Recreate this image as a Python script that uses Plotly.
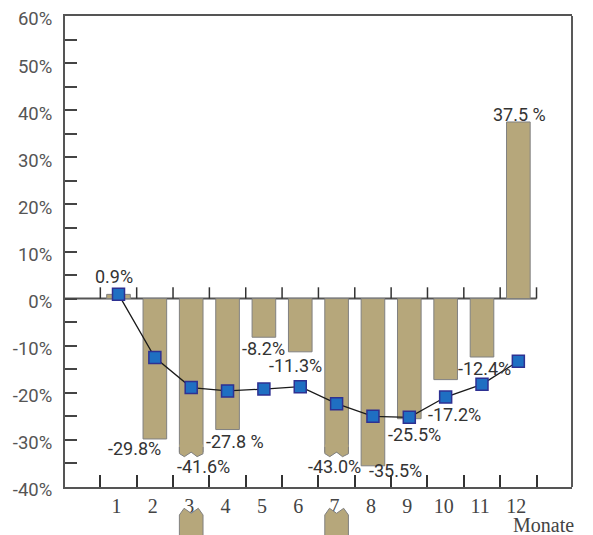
import plotly.graph_objects as go

# ---------------- data ----------------
months = [1, 2, 3, 4, 5, 6, 7, 8, 9, 10, 11, 12]
month_labels = ["1", "2", "3", "4", "5", "6", "7", "8", "9", "10", "11", "12"]
bar_values = [0.9, -29.8, -41.6, -27.8, -8.2, -11.3, -43.0, -35.5, -25.5, -17.2, -12.4, 37.5]
line_values = [0.9, -12.5, -18.9, -19.6, -19.2, -18.7, -22.3, -25.0, -25.2, -20.9, -18.2, -13.3]
spaced_pct = [False, False, False, True, False, False, False, False, False, False, False, True]
y_ticks = [-40, -30, -20, -10, 0, 10, 20, 30, 40, 50, 60]
y_tick_labels = ["-40%", "-30%", "-20%", "-10%", "0%", "10%", "20%", "30%", "40%", "50%", "60%"]
x_axis_title = "Monate"

# ---------------- styles / positions ----------------
BAR_COLOR = "#b6a77b"
BAR_LINE = "#808080"
AXIS_COLOR = "#555555"
TEXT_COLOR = "#333333"
BAR_W = 0.65
CUT = -32.6          # level where over-long bars are broken off
X_RANGE = [-0.472, 13.476]
Y_RANGE = [-40, 60]
label_dx = [-0.12, -0.56, 0.34, 0.2, 0.0, -0.14, -0.07, 0.61, 0.14, 0.23, 0.07, 0.03]
label_dy = [3.8, -2.0, -3.1, -2.45, -2.4, -3.0, -3.0, -0.9, -3.3, -7.5, -2.44, 1.5]

broken = [v < Y_RANGE[0] + 3 for v in bar_values]
shown = [max(v, CUT) if b else v for v, b in zip(bar_values, broken)]

fig = go.Figure()
fig.add_trace(go.Bar(
    x=months, y=shown, width=BAR_W,
    marker=dict(color=BAR_COLOR, line=dict(color=BAR_LINE, width=1)),
    hoverinfo="skip",
))
fig.add_trace(go.Scatter(
    x=months, y=line_values, mode="lines+markers",
    line=dict(color="#1a1a1a", width=1.3),
    marker=dict(symbol="square", size=12, color="#1f6fc2",
                line=dict(color="#2e3192", width=1.5)),
    hoverinfo="skip",
))

shapes = []
# zero line with upward ticks at category boundaries
shapes.append(dict(type="line", xref="x", yref="y", x0=X_RANGE[0], x1=months[-1] + 0.5,
                   y0=0, y1=0, line=dict(color=AXIS_COLOR, width=2), layer="below"))
for k in range(len(months) + 1):
    xb = months[0] - 0.5 + k
    shapes.append(dict(type="line", xref="x", yref="y", x0=xb, x1=xb, y0=0, y1=2.4,
                       line=dict(color="#333333", width=1.5), layer="below"))

# broken bars: zigzag end inside plot and a stub below the axis
zz_top = [(0.0, -32.9), (0.21, -33.56), (0.5, -32.6), (0.75, -33.56), (1.0, -32.95)]
stub = [(0.0, -0.0594), (0.2, -0.0452), (0.5, -0.0558), (0.8, -0.0452), (1.0, -0.0594)]
for m, b in zip(months, broken):
    if not b:
        continue
    left = m - BAR_W / 2
    pts = [(left + f * BAR_W, yy) for f, yy in zz_top]
    poly = f"M {left},{-31} L " + " L ".join(f"{px},{py}" for px, py in pts) + f" L {left + BAR_W},{-31} Z"
    shapes.append(dict(type="path", xref="x", yref="y", path=poly,
                       fillcolor=BAR_COLOR, line=dict(width=0), layer="above"))
    outline = f"M {left},{-31.5} L " + " L ".join(f"{px},{py}" for px, py in pts) + f" L {left + BAR_W},{-31.5}"
    shapes.append(dict(type="path", xref="x", yref="y", path=outline,
                       fillcolor="rgba(0,0,0,0)", line=dict(color=BAR_LINE, width=1), layer="above"))
    spts = [(left + f * BAR_W, yy) for f, yy in stub]
    spoly = f"M {left},-0.2 L " + " L ".join(f"{px},{py}" for px, py in spts) + f" L {left + BAR_W},-0.2 Z"
    shapes.append(dict(type="path", xref="x", yref="paper", path=spoly,
                       fillcolor=BAR_COLOR, line=dict(color=BAR_LINE, width=1), layer="above"))

# right border
shapes.append(dict(type="line", xref="paper", yref="paper", x0=1, x1=1, y0=0, y1=1,
                   line=dict(color="#222222", width=1.5)))

annotations = []
for m, v, s, dx, dy, sp in zip(months, bar_values, shown, label_dx, label_dy, spaced_pct):
    txt = f"{v:.1f}" + (" %" if sp else "%")
    annotations.append(dict(x=m + dx, y=s + dy, xref="x", yref="y", text=txt,
                            showarrow=False, xanchor="center", yanchor="middle",
                            font=dict(family="Roboto, Arial, sans-serif", size=18, color=TEXT_COLOR)))
annotations.append(dict(x=0.943, y=-0.081, xref="paper", yref="paper", text=x_axis_title,
                        showarrow=False, xanchor="center", yanchor="middle",
                        font=dict(family="Liberation Serif, serif", size=20, color="#444444")))

# the page body adds an 8 px offset, so the figure is sized to the remaining window
fig.update_layout(
    width=585, height=527,
    margin=dict(l=57, r=21, t=8, b=48, autoexpand=False),
    paper_bgcolor="white", plot_bgcolor="white",
    showlegend=False,
    shapes=shapes, annotations=annotations,
    xaxis=dict(
        range=X_RANGE, tickvals=months, ticktext=month_labels,
        showgrid=False, zeroline=False, automargin=False,
        showline=True, linecolor=AXIS_COLOR, linewidth=2, mirror=True,
        ticks="inside", ticklen=0, tickcolor="rgba(0,0,0,0)",
        minor=dict(tickvals=[m - 0.5 for m in months] + [months[-1] + 0.5],
                   ticks="inside", ticklen=12, tickwidth=1.5, tickcolor="#333333"),
        tickfont=dict(family="Liberation Serif, serif", size=20, color="#444444"),
        ticklabelshift=-2,
    ),
    yaxis=dict(
        range=Y_RANGE, tickvals=y_ticks, ticktext=y_tick_labels,
        showgrid=False, zeroline=False, automargin=False,
        showline=True, linecolor=AXIS_COLOR, linewidth=2, mirror=False,
        ticks="inside", ticklen=12, tickwidth=1.5, tickcolor="#444444",
        minor=dict(dtick=5, ticks="inside", ticklen=12, tickwidth=1.5, tickcolor="#444444"),
        tickfont=dict(family="Roboto, Arial, sans-serif", size=18.5, color="#555555"),
        ticklabelstandoff=7,
        ticklabelshift=3,
        ticklabeloverflow="allow",
    ),
)

fig.write_html("out.html")
